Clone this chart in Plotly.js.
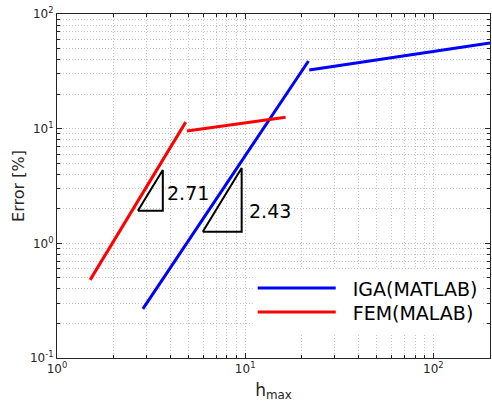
<!DOCTYPE html>
<html>
<head>
<meta charset="utf-8">
<script src="https://cdn.plot.ly/plotly-3.0.1.min.js"></script>
<style>
  html, body { margin: 0; padding: 0; background: #fff; }
  #chart { width: 492px; height: 403px; }
</style>
</head>
<body>
<div id="chart"></div>
<script>
// Convergence of the error against the maximum element size (log-log)
const igaName = 'IGA(MATLAB)';
const femName = 'FEM(MALAB)';

// IGA: two branches, separated by a gap (null)
const igaH   = [2.86, 21.7, null, 21.9, 200];
const igaErr = [0.268, 38.9, null, 32.5, 55.8];

// FEM: two branches, separated by a gap (null)
const femH   = [1.50, 4.83, null, 4.90, 16.4];
const femErr = [0.48, 11.4, null, 9.55, 12.6];

// Slope triangles and their labels
const triFemH   = [2.69, 3.65, 3.65, 2.69];
const triFemErr = [1.92, 4.36, 1.92, 1.92];
const triIgaH   = [5.95, 9.58, 9.58, 5.95];
const triIgaErr = [1.26, 4.54, 1.26, 1.26];
const slopeLabels = ['2.71', '2.43'];

// Axis ticks
const xTickVals = [1, 10, 100];
const xTickText = ['10<sup>0</sup>', '10<sup>1</sup>', '10<sup>2</sup>'];
const yTickVals = [0.1, 1, 10, 100];
const yTickText = ['10<sup>-1</sup>', '10<sup>0</sup>', '10<sup>1</sup>', '10<sup>2</sup>'];

const axisColor = '#262626';
const gridColor = '#c4c4c4';
const fontFamily = 'DejaVu Sans, Liberation Sans, sans-serif';

const traces = [
  { x: igaH, y: igaErr, name: igaName, mode: 'lines', connectgaps: false,
    line: { color: '#0000ff', width: 3 } },
  { x: femH, y: femErr, name: femName, mode: 'lines', connectgaps: false,
    line: { color: '#ff0000', width: 3 } },
  { x: triFemH, y: triFemErr, mode: 'lines', showlegend: false, hoverinfo: 'skip',
    line: { color: '#000000', width: 2 } },
  { x: triIgaH, y: triIgaErr, mode: 'lines', showlegend: false, hoverinfo: 'skip',
    line: { color: '#000000', width: 2 } }
];

const commonAxis = {
  showline: true, linecolor: axisColor, linewidth: 1, mirror: 'allticks',
  ticks: 'inside', ticklen: 5, tickcolor: axisColor, tickwidth: 1,
  showgrid: true, gridcolor: gridColor, gridwidth: 1, griddash: '1px,2px',
  zeroline: false,
  tickfont: { family: fontFamily, size: 12, color: axisColor },
  tickmode: 'array',
  minor: { dtick: 'D1', ticks: 'inside', ticklen: 3, tickcolor: axisColor,
           showgrid: true, gridcolor: gridColor, gridwidth: 1, griddash: '1px,2px' }
};

const layout = {
  width: 492, height: 403,
  margin: { l: 57, r: 2, t: 14, b: 45, autoexpand: false },
  paper_bgcolor: '#ffffff', plot_bgcolor: '#ffffff',
  font: { family: fontFamily, color: axisColor },
  showlegend: true,
  xaxis: Object.assign({}, commonAxis, {
    type: 'log', range: [0, Math.log10(200)],
    tickvals: xTickVals, ticktext: xTickText,
    title: { text: 'h<sub>max</sub>', font: { family: fontFamily, size: 17, color: axisColor }, standoff: 8 }
  }),
  yaxis: Object.assign({}, commonAxis, {
    type: 'log', range: [-1, 2],
    tickvals: yTickVals, ticktext: yTickText,
    title: { text: 'Error [%]', font: { family: fontFamily, size: 16, color: axisColor }, standoff: 1 }
  }),
  legend: {
    x: 0.452, y: 0.258, xanchor: 'left', yanchor: 'top',
    bgcolor: '#ffffff', borderwidth: 0,
    itemwidth: 90,
    font: { family: fontFamily, size: 19, color: '#000000' },
    tracegroupgap: 0
  },
  annotations: [
    { x: Math.log10(triFemH[1]), y: Math.log10(2.75), xref: 'x', yref: 'y',
      text: slopeLabels[0], showarrow: false, xanchor: 'left', yanchor: 'middle', xshift: 2,
      font: { family: fontFamily, size: 19, color: '#000000' } },
    { x: Math.log10(triIgaH[1]), y: Math.log10(1.92), xref: 'x', yref: 'y',
      text: slopeLabels[1], showarrow: false, xanchor: 'left', yanchor: 'middle', xshift: 5,
      font: { family: fontFamily, size: 19, color: '#000000' } }
  ]
};

Plotly.newPlot('chart', traces, layout, { staticPlot: true, displayModeBar: false }).then(function () {
  // longer legend swatches
  document.querySelectorAll('.legend path.js-line').forEach(function (p) {
    p.setAttribute('d', 'M5,0h78');
  });
  // tighter legend rows
  const items = document.querySelectorAll('.legend g.traces');
  if (items.length > 1) {
    const m = /translate\(\s*([-\d.]+)[ ,]+([-\d.]+)/.exec(items[0].getAttribute('transform') || '');
    if (m) {
      const x0 = parseFloat(m[1]), y0 = parseFloat(m[2]);
      items.forEach(function (g, i) {
        g.setAttribute('transform', 'translate(' + x0 + ',' + (y0 + i * 24) + ')');
      });
    }
  }
});
</script>
</body>
</html>
